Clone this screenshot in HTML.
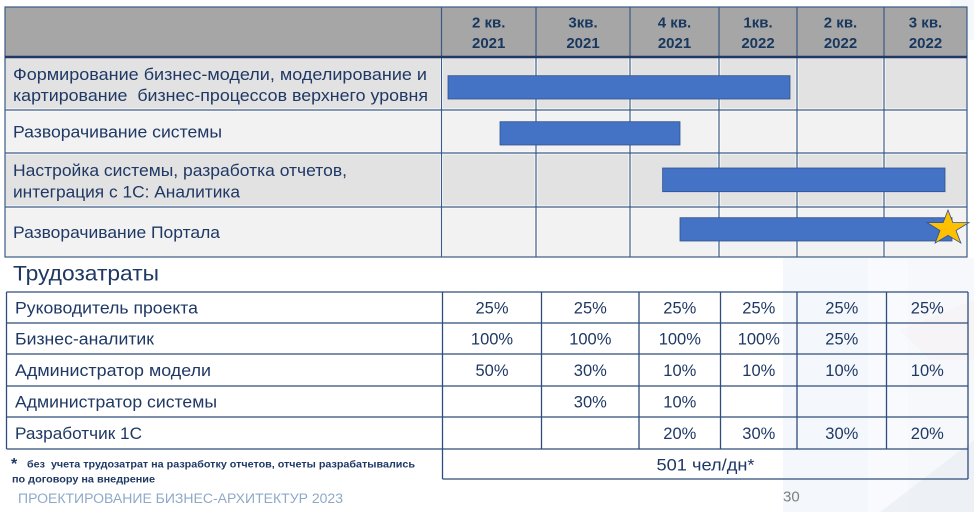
<!DOCTYPE html>
<html><head><meta charset="utf-8"><style>
html,body{margin:0;padding:0;background:#fff;}
svg{display:block;}
text{font-family:"Liberation Sans","Noto Sans CJK SC",sans-serif;}
</style></head><body>
<svg width="974" height="512" viewBox="0 0 974 512" xmlns="http://www.w3.org/2000/svg">
<!-- faint background decoration -->
<rect x="0" y="0" width="974" height="512" fill="#ffffff"/>
<rect x="950" y="0" width="24" height="40" fill="#eef3f9" opacity="0.6"/>
<rect x="783" y="258" width="85" height="254" fill="#f0f5fb" opacity="0.7"/>
<rect x="868" y="258" width="40" height="254" fill="#f5f8fc" opacity="0.7"/>
<rect x="908" y="258" width="66" height="254" fill="#edf2f8" opacity="0.5"/>
<polygon points="900,330 974,300 974,360 930,360" fill="#f8eef2" opacity="0.35"/>
<polygon points="880,512 974,440 974,512" fill="#e8edf4" opacity="0.6"/>

<!-- ===== Top gantt table ===== -->
<rect x="5" y="7" width="962" height="50" fill="#a6a6a6"/>
<rect x="5" y="57" width="962" height="53" fill="#e2e2e2"/>
<rect x="5" y="110" width="962" height="43" fill="#f2f2f2"/>
<rect x="5" y="153" width="962" height="54" fill="#e2e2e2"/>
<rect x="5" y="207" width="962" height="50" fill="#f2f2f2"/>

<!-- white separator lines -->
<g stroke="#ffffff" stroke-width="3">
<line x1="5" y1="110" x2="967" y2="110"/>
<line x1="5" y1="153" x2="967" y2="153"/>
<line x1="5" y1="207" x2="967" y2="207"/>
<line x1="441.5" y1="57" x2="441.5" y2="257"/>
<line x1="536" y1="57" x2="536" y2="257"/>
<line x1="630" y1="57" x2="630" y2="257"/>
<line x1="719" y1="57" x2="719" y2="257"/>
<line x1="797" y1="57" x2="797" y2="257"/>
<line x1="884" y1="57" x2="884" y2="257"/>
</g>
<g stroke="#3b5b86" stroke-width="1.2" fill="none">
<rect x="5" y="7" width="962" height="250"/>
<line x1="5" y1="110" x2="967" y2="110"/>
<line x1="5" y1="153" x2="967" y2="153"/>
<line x1="5" y1="207" x2="967" y2="207"/>
<line x1="441.5" y1="7" x2="441.5" y2="257"/>
<line x1="536" y1="7" x2="536" y2="257"/>
<line x1="630" y1="7" x2="630" y2="257"/>
<line x1="719" y1="7" x2="719" y2="257"/>
<line x1="797" y1="7" x2="797" y2="257"/>
<line x1="884" y1="7" x2="884" y2="257"/>
</g>
<line x1="5" y1="57" x2="967" y2="57" stroke="#1f3864" stroke-width="2.6"/>

<!-- header text -->
<g fill="#17375e" font-weight="bold" font-size="15" text-anchor="middle">
<text x="488.7" y="27.5">2 кв.</text><text x="488.7" y="48">2021</text>
<text x="583" y="27.5">3кв.</text><text x="583" y="48">2021</text>
<text x="674.5" y="27.5">4 кв.</text><text x="674.5" y="48">2021</text>
<text x="758" y="27.5">1кв.</text><text x="758" y="48">2022</text>
<text x="840.5" y="27.5">2 кв.</text><text x="840.5" y="48">2022</text>
<text x="925.5" y="27.5">3 кв.</text><text x="925.5" y="48">2022</text>
</g>

<!-- row labels -->
<g fill="#1f3864" font-size="16.5">
<text x="13" y="80" textLength="414" lengthAdjust="spacingAndGlyphs">Формирование бизнес-модели, моделирование и</text>
<text x="13" y="101" textLength="415" lengthAdjust="spacingAndGlyphs" xml:space="preserve">картирование  бизнес-процессов верхнего уровня</text>
<text x="13" y="137.5" textLength="209" lengthAdjust="spacingAndGlyphs">Разворачивание системы</text>
<text x="13" y="176" textLength="334" lengthAdjust="spacingAndGlyphs">Настройка системы, разработка отчетов,</text>
<text x="13" y="197.5" textLength="227" lengthAdjust="spacingAndGlyphs">интеграция с 1С: Аналитика</text>
<text x="13" y="238" textLength="207" lengthAdjust="spacingAndGlyphs">Разворачивание Портала</text>
</g>

<!-- bars -->
<g fill="#4472c4" stroke="#2f528f" stroke-width="0.8">
<rect x="448" y="75.7" width="342" height="23.3"/>
<rect x="500" y="121.7" width="180" height="23.3"/>
<rect x="662.6" y="168" width="282.4" height="23.7"/>
<rect x="680" y="217.7" width="272" height="23.3"/>
</g>
<polygon points="948,210 952.9,222.6 968.9,222.6 956,230.5 960.9,243.1 948,235.3 935.1,243.1 940,230.5 927.1,222.6 943.1,222.6" fill="#ffc000" stroke="#2f528f" stroke-width="0.8"/>

<!-- ===== Трудозатраты ===== -->
<text x="13" y="280.5" fill="#1f3864" font-size="21.5" textLength="146" lengthAdjust="spacingAndGlyphs">Трудозатраты</text>

<g stroke="#2f4d7a" stroke-width="1.3" fill="none">
<line x1="6.5" y1="292" x2="968" y2="292"/>
<line x1="6.5" y1="323" x2="968" y2="323"/>
<line x1="6.5" y1="354" x2="968" y2="354"/>
<line x1="6.5" y1="386" x2="968" y2="386"/>
<line x1="6.5" y1="417" x2="968" y2="417"/>
<line x1="6.5" y1="449" x2="968" y2="449"/>
<line x1="442.5" y1="479" x2="968" y2="479"/>
<line x1="6.5" y1="292" x2="6.5" y2="449"/>
<line x1="442.5" y1="292" x2="442.5" y2="479"/>
<line x1="968" y1="292" x2="968" y2="479"/>
<line x1="541.5" y1="292" x2="541.5" y2="449"/>
<line x1="639" y1="292" x2="639" y2="449"/>
<line x1="720.5" y1="292" x2="720.5" y2="449"/>
<line x1="797" y1="292" x2="797" y2="449"/>
<line x1="886.5" y1="292" x2="886.5" y2="449"/>
</g>

<g fill="#1f3864" font-size="16.5">
<text x="15" y="313.5" textLength="183" lengthAdjust="spacingAndGlyphs">Руководитель проекта</text>
<text x="15" y="344.5" textLength="139" lengthAdjust="spacingAndGlyphs">Бизнес-аналитик</text>
<text x="15" y="376" textLength="196" lengthAdjust="spacingAndGlyphs">Администратор модели</text>
<text x="15" y="407.5" textLength="202" lengthAdjust="spacingAndGlyphs">Администратор системы</text>
<text x="15" y="439" textLength="127" lengthAdjust="spacingAndGlyphs">Разработчик 1С</text>
</g>

<g fill="#1f3864" font-size="16.5" text-anchor="middle">
<text x="492" y="313.5">25%</text><text x="590.3" y="313.5">25%</text><text x="679.8" y="313.5">25%</text><text x="758.8" y="313.5">25%</text><text x="841.8" y="313.5">25%</text><text x="927.3" y="313.5">25%</text>
<text x="492" y="344.5">100%</text><text x="590.3" y="344.5">100%</text><text x="679.8" y="344.5">100%</text><text x="758.8" y="344.5">100%</text><text x="841.8" y="344.5">25%</text>
<text x="492" y="376">50%</text><text x="590.3" y="376">30%</text><text x="679.8" y="376">10%</text><text x="758.8" y="376">10%</text><text x="841.8" y="376">10%</text><text x="927.3" y="376">10%</text>
<text x="590.3" y="407.5">30%</text><text x="679.8" y="407.5">10%</text>
<text x="679.8" y="439">20%</text><text x="758.8" y="439">30%</text><text x="841.8" y="439">30%</text><text x="927.3" y="439">20%</text>
<text x="705.5" y="470.5" textLength="98" lengthAdjust="spacingAndGlyphs">501 чел/дн*</text>
</g>

<!-- footnote -->
<text x="11" y="469" fill="#1f3864" font-size="16" font-weight="bold">*</text>
<text x="27" y="467.5" fill="#1f3864" font-size="10.5" font-weight="bold" textLength="388" lengthAdjust="spacingAndGlyphs" xml:space="preserve">без  учета трудозатрат на разработку отчетов, отчеты разрабатывались</text>
<text x="12" y="482.5" fill="#1f3864" font-size="10.5" font-weight="bold" textLength="143" lengthAdjust="spacingAndGlyphs">по договору на внедрение</text>

<text x="18" y="503" fill="#8ea9c8" font-size="13.5" textLength="325" lengthAdjust="spacingAndGlyphs">ПРОЕКТИРОВАНИЕ БИЗНЕС-АРХИТЕКТУР 2023</text>
<text x="783" y="501.5" fill="#7f7f7f" font-size="15">30</text>
</svg>
</body></html>
